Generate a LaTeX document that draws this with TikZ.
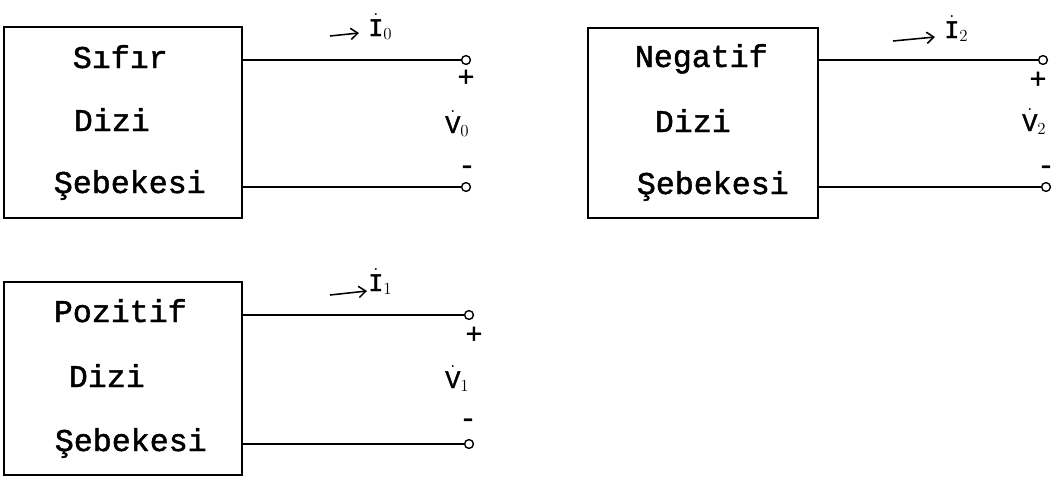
\documentclass[tikz,border=0pt]{standalone}
\usepackage{fontspec}
\newfontfamily\daktilo[FakeBold=1.5]{Liberation Mono}
\usetikzlibrary{positioning,arrows.meta}
\newcommand{\fazor}[2]{$\dot{\hbox{\daktilo #1}}_{\hbox{\fontsize{12}{14}\selectfont #2}}$}
\begin{document}
\begin{tikzpicture}[
        x=0.025cm, y=-0.025cm,
        line width=1.2pt,
        blok/.style = {draw, rectangle, minimum width=5.95cm, minimum height=4.775cm, inner sep=0pt},
        yazi/.style = {anchor=base west, inner sep=0pt, font=\daktilo\fontsize{22.5}{26}\selectfont},
        uc/.style = {draw, circle, fill=white, minimum size=2.2mm, inner sep=0pt, line width=1pt},
        etiket/.style = {anchor=base west, inner sep=1pt, font=\fontsize{18}{21}\selectfont},
        isaret/.style = {inner sep=0pt, font=\daktilo\fontsize{20}{22}\selectfont},
        akim/.style = {-{Straight Barb[length=5pt, width=8pt]}, line width=1.1pt}
    ]
        \useasboundingbox (0,0) rectangle (1054,480);

        % Sıfır dizi şebekesi
        \node[blok] (S0) at (123,122.5) {};
        \node[yazi] (s0a) at (72,68) {Sıfır};
        \node[yazi] (s0b) at (73,131) {Dizi};
        \node[yazi] (s0c) at (53,193) {Şebekesi};
        \node[uc] (p0) at (466,60) {};
        \node[uc] (n0) at (466,187) {};
        \draw (S0.east |- p0) -- (p0);
        \draw (S0.east |- n0) -- (n0);
        \node[isaret] (ps0) at (466,78) {+};
        \node[isaret] (ms0) at (467,170) {-};
        \node[etiket] (V0) at (443,133) {\fazor{V}{0}};
        \node[etiket] (I0) at (366,36) {\fazor{I}{0}};
        \coordinate (a0) at (330,36);
        \coordinate (b0) at (359,33);
        \draw[akim] (a0) -- (b0);

        % Negatif dizi şebekesi
        \node[blok, minimum width=5.75cm, minimum height=4.75cm] (S2) at (703,123) {};
        \node[yazi] (s2a) at (634,67) {Negatif};
        \node[yazi] (s2b) at (654,132) {Dizi};
        \node[yazi] (s2c) at (636,194) {Şebekesi};
        \node[uc] (p2) at (1043,60) {};
        \node[uc] (n2) at (1046,187) {};
        \draw (S2.east |- p2) -- (p2);
        \draw (S2.east |- n2) -- (n2);
        \node[isaret] (ps2) at (1038,80) {+};
        \node[isaret] (ms2) at (1046,170) {-};
        \node[etiket] (V2) at (1020,131) {\fazor{V}{2}};
        \node[etiket] (I2) at (942,38) {\fazor{I}{2}};
        \coordinate (a2) at (893,41);
        \coordinate (b2) at (935,37);
        \draw[akim] (a2) -- (b2);

        % Pozitif dizi şebekesi
        \node[blok, minimum height=4.825cm] (S1) at (123,378.5) {};
        \node[yazi] (s1a) at (53,322) {Pozitif};
        \node[yazi] (s1b) at (68,387) {Dizi};
        \node[yazi] (s1c) at (54,451) {Şebekesi};
        \node[uc] (p1) at (469,315) {};
        \node[uc] (n1) at (469,444) {};
        \draw (S1.east |- p1) -- (p1);
        \draw (S1.east |- n1) -- (n1);
        \node[isaret] (ps1) at (474,335) {+};
        \node[isaret] (ms1) at (468,423) {-};
        \node[etiket] (V1) at (443,388) {\fazor{V}{1}};
        \node[etiket] (I1) at (366,291) {\fazor{I}{1}};
        \coordinate (a1) at (330,295);
        \coordinate (b1) at (367,291);
        \draw[akim] (a1) -- (b1);

    \end{tikzpicture}
\end{document}
